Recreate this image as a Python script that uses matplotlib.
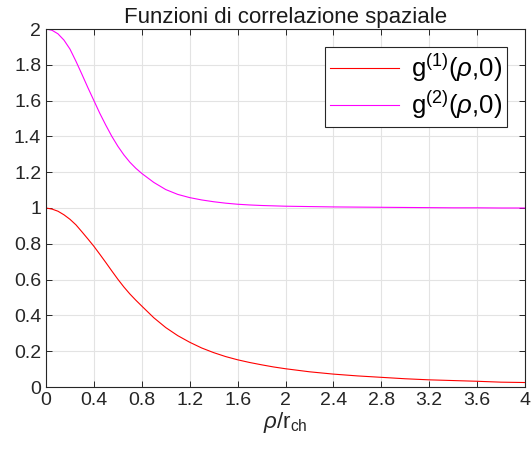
import numpy as np
import matplotlib
matplotlib.use('Agg')
import matplotlib.pyplot as plt

plt.rcParams.update({
    'font.family': ['Liberation Sans', 'DejaVu Sans'],
    'mathtext.fontset': 'custom',
    'mathtext.rm': 'Liberation Sans',
    'mathtext.it': 'Liberation Sans:italic',
    'mathtext.bf': 'Liberation Sans:bold',
})

# values
rho = [0.0, 0.05, 0.1, 0.15, 0.2, 0.25, 0.3, 0.35, 0.4, 0.45, 0.5, 0.55, 0.6,
       0.65, 0.7, 0.75, 0.8, 0.9, 1.0, 1.1, 1.2, 1.3, 1.4, 1.5, 1.6, 1.7,
       1.8, 1.9, 2.0, 2.2, 2.4, 2.6, 2.8, 3.0, 3.2, 3.4, 3.6, 3.8, 4.0]
g1 = [1.0, 0.994, 0.982, 0.962, 0.937, 0.906, 0.867, 0.827, 0.786, 0.741,
      0.695, 0.648, 0.602, 0.559, 0.520, 0.485, 0.452, 0.387, 0.332, 0.287,
      0.250, 0.218, 0.192, 0.170, 0.152, 0.137, 0.124, 0.112, 0.102, 0.085,
      0.072, 0.062, 0.054, 0.046, 0.040, 0.036, 0.032, 0.027, 0.025]
g2 = [2.0, 1.993, 1.973, 1.938, 1.888, 1.820, 1.747, 1.672, 1.600, 1.528,
      1.462, 1.400, 1.345, 1.297, 1.256, 1.222, 1.193, 1.143, 1.103, 1.076,
      1.058, 1.045, 1.035, 1.027, 1.021, 1.017, 1.014, 1.012, 1.010, 1.008,
      1.006, 1.005, 1.004, 1.003, 1.002, 1.001, 1.001, 1.0, 1.0]

xticks = [0, 0.4, 0.8, 1.2, 1.6, 2, 2.4, 2.8, 3.2, 3.6, 4]
xticklabels = ['0', '0.4', '0.8', '1.2', '1.6', '2', '2.4', '2.8', '3.2', '3.6', '4']
yticks = [0, 0.2, 0.4, 0.6, 0.8, 1, 1.2, 1.4, 1.6, 1.8, 2]
yticklabels = ['0', '0.2', '0.4', '0.6', '0.8', '1', '1.2', '1.4', '1.6', '1.8', '2']

fig = plt.figure(figsize=(5.31, 4.59), dpi=100)
ax = fig.add_axes([46 / 531, 1 - 387 / 459, 479 / 531, 358 / 459])

ax.plot(rho, g1, color='#ff0000', linewidth=0.8, label=r'g$^{(1)}$($\rho$,0)')
ax.plot(rho, g2, color='#ff00ff', linewidth=0.8, label=r'g$^{(2)}$($\rho$,0)')

ax.set_xlim(0, 4)
ax.set_ylim(0, 2)
ax.set_xticks(xticks)
ax.set_xticklabels(xticklabels)
ax.set_yticks(yticks)
ax.set_yticklabels(yticklabels)
ax.grid(True, color='#e3e3e3', linewidth=0.8)
ax.set_axisbelow(True)
ax.tick_params(direction='in', top=True, right=True, labelsize=14,
               colors='#262626', length=4, width=0.7)
for s in ax.spines.values():
    s.set_color('#262626')
    s.set_linewidth(0.8)

ax.set_title('Funzioni di correlazione spaziale', fontsize=16, color='#1a1a1a', pad=4)
ax.set_xlabel(r'$\rho$/r$_{\rm ch}$', fontsize=16, color='#262626', labelpad=1)

leg = ax.legend(loc='upper right', fontsize=18.5, fancybox=False, framealpha=1,
                edgecolor='#262626', handlelength=2.7, borderpad=0.2,
                labelspacing=0.2, handletextpad=0.45, borderaxespad=0.7)
leg.get_frame().set_linewidth(0.8)

fig.savefig('out.png', dpi=100)
